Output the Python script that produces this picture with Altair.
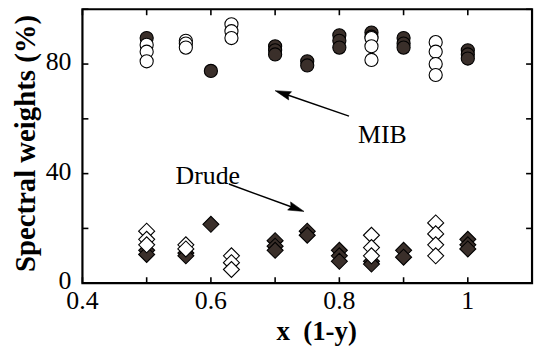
import math
import altair as alt
import pandas as pd

# ---- data ----
mib_filled_x = [0.5, 0.6, 0.7, 0.7, 0.7, 0.75, 0.75, 0.8, 0.8, 0.8, 0.85, 0.85, 0.9, 0.9, 0.9, 1.0, 1.0, 1.0]
mib_filled_y = [89.5, 77.5, 86.5, 85, 83.5, 81, 79.5, 90.5, 88.5, 86, 91.5, 90, 89.5, 87.5, 86, 85, 83.5, 82]
mib_open_x = [0.5, 0.5, 0.5, 0.561, 0.561, 0.561, 0.632, 0.632, 0.632, 0.85, 0.85, 0.85, 0.95, 0.95, 0.95, 0.95]
mib_open_y = [87, 84.5, 81, 88.5, 87.5, 86, 94.5, 92, 89.5, 89.5, 86.5, 81.5, 88, 84.5, 80, 76]
drude_filled_x = [0.5, 0.5, 0.561, 0.561, 0.6, 0.7, 0.7, 0.7, 0.75, 0.75, 0.8, 0.8, 0.8, 0.85, 0.85, 0.9, 0.9, 1.0, 1.0, 1.0]
drude_filled_y = [12, 10.5, 11, 10, 21.5, 15.5, 13.5, 12, 19, 17.5, 12, 10, 8, 8, 7, 12, 9.5, 16, 14, 12.5]
drude_open_x = [0.5, 0.5, 0.5, 0.561, 0.561, 0.632, 0.632, 0.632, 0.85, 0.85, 0.85, 0.95, 0.95, 0.95, 0.95]
drude_open_y = [19, 16, 14, 14, 12.5, 10, 7.5, 5, 17.5, 13, 10, 22, 18, 14, 10]

x_ticks = [0.4, 0.5, 0.6, 0.7, 0.8, 0.9, 1.0, 1.1]
x_labels = [0.4, 0.6, 0.8, 1.0]
x_label_text = ["0.4", "0.6", "0.8", "1"]
y_ticks = [0, 20, 40, 60, 80, 100]
y_labels = [0, 40, 80]
y_label_text = ["0", "40", "80"]
x_domain = [0.4, 1.1]
y_domain = [0, 100]
x_title = "x\u00a0\u00a0(1-y)"
y_title = "Spectral weights (%)"

labels_text = ["MIB", "Drude"]
labels_x = [0.829, 0.545]
labels_y = [51.3, 36.3]
arrow_tail_x = [0.815, 0.628]
arrow_tail_y = [61.0, 36.2]
arrow_tip_x = [0.700, 0.745]
arrow_tip_y = [70.3, 26.2]

# ---- layout ----
W, H = 453, 276
KX = W / (x_domain[1] - x_domain[0])
KY = H / (y_domain[1] - y_domain[0])
FONT = "Liberation Serif"
DARK = "#3a2f2a"

xs = alt.Scale(domain=x_domain, nice=False, zero=False)
ys = alt.Scale(domain=y_domain, nice=False, zero=False)


def X(f="x"):
    return alt.X(f"{f}:Q", scale=xs, axis=None)


def Y(f="y"):
    return alt.Y(f"{f}:Q", scale=ys, axis=None)


def pts(xv, yv, shape, size, filled):
    df = pd.DataFrame({"x": xv, "y": yv})
    return alt.Chart(df).mark_point(
        shape=shape, size=size, filled=True,
        fill=DARK if filled else "white", stroke="black",
        strokeWidth=1.1, opacity=1, fillOpacity=1,
    ).encode(x=X(), y=Y())


# ticks (inward)
tlx = 6 / KX
tly = 6 / KY
tick_rows = []
for v in x_ticks:
    tick_rows.append({"x": v, "x2": v, "y": y_domain[0], "y2": y_domain[0] + tly})
    tick_rows.append({"x": v, "x2": v, "y": y_domain[1], "y2": y_domain[1] - tly})
for v in y_ticks:
    tick_rows.append({"x": x_domain[0], "x2": x_domain[0] + tlx, "y": v, "y2": v})
    tick_rows.append({"x": x_domain[1], "x2": x_domain[1] - tlx, "y": v, "y2": v})
ticks = alt.Chart(pd.DataFrame(tick_rows)).mark_rule(color="black", strokeWidth=1.6).encode(
    x=X(), y=Y(), x2="x2:Q", y2="y2:Q")

# axis labels and titles as text marks (serif)
xlab = alt.Chart(pd.DataFrame({"x": x_labels, "y": [y_domain[0]] * len(x_labels),
                               "t": x_label_text})).mark_text(
    font=FONT, fontSize=26, color="black", align="center", baseline="top", dy=5
).encode(x=X(), y=Y(), text="t:N")
ylab = alt.Chart(pd.DataFrame({"x": [x_domain[0]] * len(y_labels), "y": y_labels,
                               "t": y_label_text})).mark_text(
    font=FONT, fontSize=26, color="black", align="right", baseline="middle", dx=-11, dy=-2
).encode(x=X(), y=Y(), text="t:N")
xtitle = alt.Chart(pd.DataFrame({"x": [0.4 + 236 / KX], "y": [y_domain[0] - 36 / KY],
                                 "t": [x_title]})).mark_text(
    font=FONT, fontSize=27, fontWeight="bold", color="black", align="center", baseline="top"
).encode(x=X(), y=Y(), text="t:N")
ytitle = alt.Chart(pd.DataFrame({"x": [x_domain[0] - 57 / KX], "y": [51.0],
                                 "t": [y_title]})).mark_text(
    font=FONT, fontSize=29, fontWeight="bold", color="black", align="center",
    baseline="middle", angle=270
).encode(x=X(), y=Y(), text="t:N")

# arrows
arr_rows = []
for tx, ty, hx, hy in zip(arrow_tail_x, arrow_tail_y, arrow_tip_x, arrow_tip_y):
    dxp = (hx - tx) * KX
    dyp = -(hy - ty) * KY
    L = math.hypot(dxp, dyp)
    ang = math.degrees(math.atan2(dxp, -dyp)) % 360
    f = 8.0 / L
    cx = hx - (hx - tx) * f
    cy = hy - (hy - ty) * f
    arr_rows.append({"x": tx, "y": ty, "x2": cx, "y2": cy, "ang": ang})
arr_df = pd.DataFrame(arr_rows)
arrow_lines = alt.Chart(arr_df).mark_rule(color="black", strokeWidth=1.5).encode(
    x=X(), y=Y(), x2="x2:Q", y2="y2:Q")
heads = []
for _, r in arr_df.iterrows():
    hd = pd.DataFrame({"x": [r["x2"]], "y": [r["y2"]]})
    heads.append(
        alt.Chart(hd).mark_point(
            shape="M0,-1L-0.55,1L0,0.75L0.55,1Z", size=256, filled=True,
            fill="black", stroke="black", strokeWidth=0.5, opacity=1,
            angle=float(r["ang"]),
        ).encode(x=X(), y=Y())
    )

texts = alt.Chart(pd.DataFrame({"x": labels_x, "y": labels_y, "t": labels_text})).mark_text(
    font=FONT, fontSize=26, color="black", align="left", baseline="alphabetic"
).encode(x=X(), y=Y(), text="t:N")

chart = alt.layer(
    ticks,
    pts(mib_filled_x, mib_filled_y, "circle", 175, True),
    pts(mib_open_x, mib_open_y, "circle", 175, False),
    pts(drude_filled_x, drude_filled_y, "diamond", 260, True),
    pts(drude_open_x, drude_open_y, "diamond", 260, False),
    arrow_lines,
    *heads,
    texts,
    xlab, ylab, xtitle, ytitle,
).properties(
    width=W, height=H,
    autosize=alt.AutoSizeParams(type="none"),
    padding={"left": 75, "top": 0, "right": 5, "bottom": 62},
    background="white",
).configure_view(stroke="black", strokeWidth=2.2)

chart.save("out.html", embed_options={"renderer": "svg", "actions": False})
